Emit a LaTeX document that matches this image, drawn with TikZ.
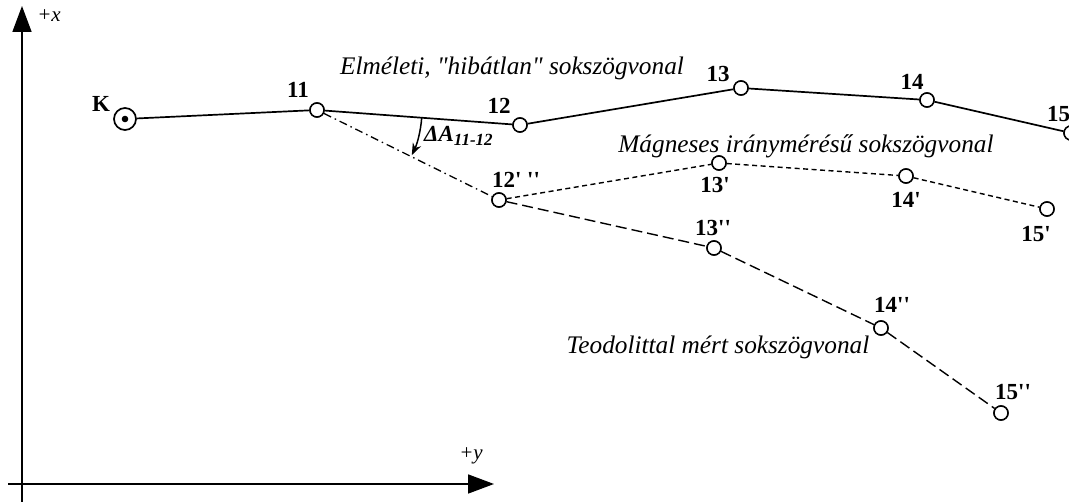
\documentclass[tikz,border=0pt]{standalone}
\usepackage{fontspec}
\setmainfont{Liberation Serif}[Ligatures=TeXOff]
\usetikzlibrary{arrows.meta,calc}
\begin{document}
\begin{tikzpicture}[x=1pt,y=-1pt,
  pt/.style={circle,draw,line width=1.5pt,fill=white,minimum size=14pt,inner sep=0pt},
  lbl/.style={font=\fontsize{23}{23}\selectfont\bfseries,inner sep=0pt},
  caption/.style={font=\fontsize{25.3}{25.3}\selectfont\itshape,inner sep=0pt},
  axlbl/.style={font=\fontsize{21}{21}\selectfont\itshape,inner sep=0pt},
  axis/.style={line width=1.6pt,-{Triangle[length=26pt,width=19pt]}},
  polysolid/.style={line width=1.7pt},
  polydashdot/.style={line width=1.3pt,dash pattern=on 8pt off 4pt on 1.5pt off 4pt},
  polydot/.style={line width=1.4pt,dash pattern=on 5pt off 3.5pt},
  polydash/.style={line width=1.4pt,dash pattern=on 11pt off 5pt}]
\useasboundingbox (0,0) rectangle (1069,502);

% coordinate axes
\coordinate (ox0) at (22,502);
\coordinate (ox1) at (22,6);
\coordinate (oy0) at (8,484);
\coordinate (oy1) at (494,484);
\draw[axis] (ox0) -- (ox1);
\draw[axis] (oy0) -- (oy1);
\node[axlbl] (lx) at (49,16) {+x};
\node[axlbl] (ly) at (471,456) {+y};

% station points
\node[circle,draw,line width=1.7pt,fill=white,minimum size=22pt,inner sep=0pt] (K) at (125,119) {};
\fill (K.center) circle (3.3pt);
\node[pt] (p11) at (317,110) {};
\node[pt] (p12) at (520,125) {};
\node[pt] (p13) at (741,88) {};
\node[pt] (p14) at (927,100) {};
\node[pt] (p15) at (1071,133) {};
\node[pt] (q12) at (499,200) {};
\node[pt] (m13) at (719,163) {};
\node[pt] (m14) at (906,176) {};
\node[pt] (m15) at (1047,209) {};
\node[pt] (t13) at (714,248) {};
\node[pt] (t14) at (881,328) {};
\node[pt] (t15) at (1001,413) {};

% traverses
\draw[polysolid] (K) -- (p11) -- (p12) -- (p13) -- (p14) -- (p15);
\draw[polydashdot] (p11) -- (q12);
\draw[polydot] (q12) -- (m13) -- (m14) -- (m15);
\draw[polydash] (q12) -- (t13) -- (t14) -- (t15);

% redraw circles on top of the lines
\foreach \n in {p11,p12,p13,p14,p15,q12,m13,m14,m15,t13,t14,t15}
  \node[pt] at (\n.center) {};

% angle of deviation
\draw[line width=1.5pt,-{Stealth[length=12pt,width=9pt]}]
  ($(p11.center)+(4.2:105)$) arc[start angle=4.2,end angle=25.5,radius=105];
\node[font=\fontsize{23}{23}\selectfont\bfseries\itshape,anchor=west,inner sep=0pt] (dA) at (424,136)
  {ΔA\raisebox{-0.45ex}{\fontsize{17}{17}\selectfont 11-12}};

% point labels
\node[lbl] at (101,104) {K};
\node[lbl] at (298,90) {11};
\node[lbl] at (499,106) {12};
\node[lbl] at (718,74) {13};
\node[lbl] at (912,82) {14};
\node[lbl,anchor=west] at (1047,114) {15};
\node[lbl] at (516,180) {12' ''};
\node[lbl] at (715,185) {13'};
\node[lbl] at (906,200) {14'};
\node[lbl] at (1036,234) {15'};
\node[lbl] at (713,228) {13''};
\node[lbl] at (892,305) {14''};
\node[lbl] at (1013,392) {15''};

% traverse captions
\node[caption] (c1) at (512,68) {Elméleti, "hibátlan" sokszögvonal};
\node[caption] (c2) at (806,146) {Mágneses iránymérésű sokszögvonal};
\node[caption] (c3) at (718,347) {Teodolittal mért sokszögvonal};
\end{tikzpicture}
\end{document}
